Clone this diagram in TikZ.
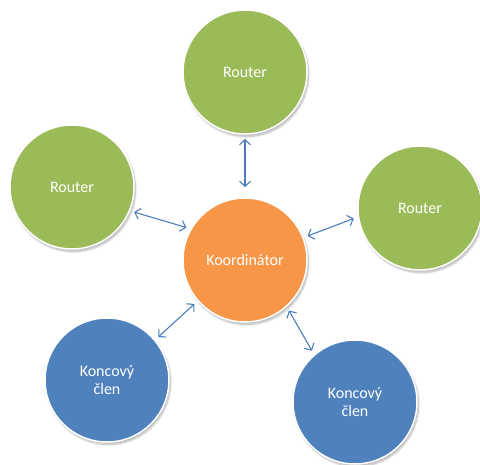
\documentclass[tikz,border=0pt]{standalone}
\usepackage{fontspec}
\setmainfont{Carlito}
\usetikzlibrary{arrows.meta,shadows.blur}

\definecolor{routergreen}{HTML}{9BBB59}
\definecolor{coordorange}{HTML}{F79646}
\definecolor{endblue}{HTML}{4F81BD}
\definecolor{linkblue}{HTML}{4A7EBB}

\tikzset{
  unit/.style={circle, minimum size=124pt, inner sep=0pt, outer sep=5pt,
    draw=white, line width=1.5pt, text=white, align=center,
    font=\fontsize{16pt}{18pt}\selectfont,
    blur shadow={shadow xshift=1.5pt, shadow yshift=-2.5pt,
      shadow blur steps=10, shadow opacity=30}},
  router/.style={unit, fill=routergreen},
  coordinator/.style={unit, fill=coordorange},
  enddevice/.style={unit, fill=endblue},
  link/.style={draw=linkblue, line width=1.1pt,
    {Straight Barb[length=5pt,width=11pt]}-{Straight Barb[length=5pt,width=11pt]}},
}

\begin{document}
\begin{tikzpicture}[x=1pt, y=-1pt]
  \useasboundingbox (0,0) rectangle (480,464);

  % network members
  \node[coordinator] (coord) at (245,260) {Koordinátor};
  \node[router] (rtop)   at (245,72)  {Router};
  \node[router] (rleft)  at (72,187)  {Router};
  \node[router] (rright) at (420,208) {Router};
  \node[enddevice] (eleft)  at (107,380) {Koncov\'y\\\v{c}len};
  \node[enddevice] (eright) at (355,402) {Koncov\'y\\\v{c}len};

  % links to the coordinator
  \draw[link, shorten >=6pt] (rtop.-90) -- (coord.90);
  \draw[link] (rleft.-22) -- (coord.151);
  \draw[link] (coord.21) -- (rright.-171);
  \draw[link] (coord.221) -- (eleft.40);
  \draw[link] (coord.-49) -- (eright.130);
\end{tikzpicture}
\end{document}
